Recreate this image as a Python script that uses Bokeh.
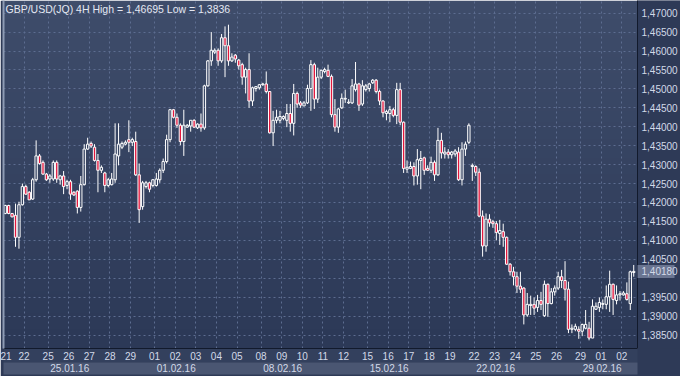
import numpy as np
from bokeh.plotting import figure
from bokeh.models import (Range1d, FixedTicker, CustomJSTickFormatter, Label,
                          LinearAxis, ColumnDataSource)
from bokeh.embed import file_html
from bokeh.resources import INLINE

# ---------------- data (4H bars, GBP/USD) ----------------
bar_open = [1.4171,1.4192,1.4171,1.4166,1.4108,1.4194,1.4242,1.4227,1.4209,1.4260,
1.4323,1.4306,1.4275,1.4262,1.4262,1.4306,1.4260,1.4270,1.4245,1.4255,
1.4227,1.4230,1.4187,1.4247,1.4341,1.4356,1.4346,1.4311,1.4285,1.4278,
1.4245,1.4247,1.4260,1.4323,1.4346,1.4354,1.4366,1.4359,1.4361,1.4273,
1.4189,1.4242,1.4252,1.4245,1.4245,1.4260,1.4285,1.4308,1.4366,1.4445,
1.4425,1.4404,1.4361,1.4399,1.4402,1.4417,1.4397,1.4407,1.4397,1.4508,
1.4574,1.4597,1.4602,1.4574,1.4635,1.4614,1.4574,1.4589,1.4576,1.4564,
1.4531,1.4551,1.4468,1.4501,1.4503,1.4511,1.4513,1.4493,1.4384,1.4417,
1.4417,1.4422,1.4417,1.4435,1.4409,1.4488,1.4463,1.4455,1.4463,1.4501,
1.4564,1.4473,1.4531,1.4546,1.4549,1.4533,1.4432,1.4399,1.4450,1.4473,
1.4463,1.4463,1.4498,1.4513,1.4460,1.4498,1.4501,1.4516,1.4523,1.4493,
1.4468,1.4435,1.4435,1.4445,1.4430,1.4498,1.4412,1.4288,1.4290,1.4295,
1.4270,1.4311,1.4318,1.4290,1.4285,1.4306,1.4273,1.4364,1.4328,1.4333,
1.4326,1.4328,1.4333,1.4260,1.4341,1.4359,1.4295,1.4295,1.4280,1.4164,
1.4085,1.4156,1.4149,1.4144,1.4118,1.4123,1.4108,1.4037,1.4017,1.4004,
1.3979,1.3974,1.3903,1.3928,1.3931,1.3923,1.3941,1.3901,1.3984,1.3933,
1.3964,1.3974,1.4004,1.3994,1.3971,1.3865,1.3865,1.3865,1.3860,1.3868,
1.3868,1.3842,1.3918,1.3923,1.3931,1.3931,1.3951,1.3984,1.3941,1.3956,
1.3956,1.3959,1.3933,1.4015]

bar_high = [1.4194,1.4194,1.4172,1.4197,1.4202,1.4250,1.4247,1.4230,1.4265,1.4364,
1.4328,1.4311,1.4278,1.4275,1.4311,1.4311,1.4273,1.4283,1.4260,1.4260,
1.4230,1.4232,1.4270,1.4354,1.4371,1.4361,1.4354,1.4328,1.4298,1.4281,
1.4265,1.4278,1.4409,1.4409,1.4361,1.4364,1.4417,1.4371,1.4387,1.4303,
1.4257,1.4257,1.4255,1.4262,1.4278,1.4290,1.4316,1.4379,1.4447,1.4447,
1.4435,1.4409,1.4445,1.4407,1.4417,1.4420,1.4409,1.4435,1.4511,1.4576,
1.4650,1.4607,1.4607,1.4645,1.4665,1.46695,1.4594,1.4592,1.4579,1.4569,
1.4556,1.4594,1.4506,1.4506,1.4513,1.4516,1.4546,1.4493,1.4442,1.4445,
1.4442,1.4430,1.4460,1.4460,1.4513,1.4493,1.4468,1.4468,1.4511,1.4576,
1.4569,1.4556,1.4551,1.4556,1.4564,1.4538,1.4473,1.4450,1.4488,1.4498,
1.4473,1.4526,1.4571,1.4516,1.4523,1.4513,1.4516,1.4526,1.4526,1.4498,
1.4470,1.4445,1.4455,1.4450,1.4516,1.4516,1.4414,1.4311,1.4308,1.4306,
1.4341,1.4336,1.4321,1.4298,1.4321,1.4311,1.4397,1.4384,1.4346,1.4341,
1.4336,1.4341,1.4346,1.4359,1.4361,1.4409,1.4303,1.4298,1.4290,1.4179,
1.4171,1.4169,1.4154,1.4151,1.4154,1.4144,1.4110,1.4040,1.4030,1.4017,
1.4017,1.3976,1.3961,1.3954,1.3949,1.3956,1.3964,1.3994,1.3986,1.3974,
1.3981,1.4017,1.4022,1.4045,1.3991,1.3878,1.3880,1.3873,1.3880,1.3916,
1.3885,1.3944,1.3936,1.3949,1.3944,1.3981,1.4020,1.3986,1.3981,1.3966,
1.3966,1.3989,1.4020,1.4035]

bar_low = [1.4169,1.4169,1.4161,1.4083,1.4078,1.4192,1.4220,1.4207,1.4207,1.4255,
1.4300,1.4273,1.4257,1.4252,1.4257,1.4252,1.4247,1.4222,1.4235,1.4207,
1.4217,1.4171,1.4176,1.4245,1.4339,1.4344,1.4308,1.4227,1.4278,1.4227,
1.4240,1.4245,1.4252,1.4298,1.4341,1.4351,1.4333,1.4349,1.4270,1.4146,
1.4181,1.4237,1.4227,1.4240,1.4242,1.4252,1.4278,1.4303,1.4359,1.4422,
1.4397,1.4351,1.4323,1.4397,1.4387,1.4397,1.4394,1.4387,1.4392,1.4506,
1.4561,1.4592,1.4561,1.4569,1.4531,1.4561,1.4571,1.4569,1.4551,1.4511,
1.4488,1.4450,1.4455,1.4493,1.4498,1.4508,1.4488,1.4382,1.4349,1.4409,
1.4409,1.4417,1.4399,1.4387,1.4377,1.4450,1.4450,1.4455,1.4460,1.4442,
1.4447,1.4463,1.4526,1.4541,1.4531,1.4425,1.4387,1.4384,1.4447,1.4463,
1.4460,1.4460,1.4493,1.4442,1.4455,1.4493,1.4493,1.4513,1.4488,1.4457,
1.4425,1.4417,1.4412,1.4425,1.4407,1.4404,1.4278,1.4278,1.4288,1.4245,
1.4247,1.4235,1.4273,1.4283,1.4278,1.4257,1.4270,1.4316,1.4316,1.4316,
1.4316,1.4321,1.4257,1.4245,1.4323,1.4354,1.4257,1.4270,1.4161,1.4057,
1.4070,1.4136,1.4133,1.4100,1.4088,1.4083,1.4035,1.4007,1.3981,1.3961,
1.3961,1.3878,1.3898,1.3903,1.3903,1.3911,1.3916,1.3898,1.3898,1.3931,
1.3954,1.3969,1.3974,1.3941,1.3855,1.3855,1.3860,1.3840,1.3847,1.3865,
1.3836,1.3842,1.3916,1.3911,1.3918,1.3918,1.3911,1.3903,1.3931,1.3941,
1.3954,1.3941,1.3916,1.4004]

bar_close = [1.4192,1.4171,1.4162,1.4108,1.4194,1.4242,1.4222,1.4207,1.4260,1.4323,
1.4303,1.4275,1.4260,1.4270,1.4306,1.4262,1.4270,1.4242,1.4255,1.4222,
1.4220,1.4187,1.4247,1.4341,1.4354,1.4349,1.4311,1.4285,1.4293,1.4245,
1.4260,1.4262,1.4328,1.4354,1.4356,1.4359,1.4359,1.4366,1.4273,1.4181,
1.4252,1.4252,1.4235,1.4260,1.4262,1.4285,1.4308,1.4366,1.4445,1.4425,
1.4404,1.4361,1.4404,1.4404,1.4417,1.4399,1.4407,1.4397,1.4508,1.4574,
1.4602,1.4602,1.4574,1.4635,1.4614,1.4574,1.4584,1.4579,1.4561,1.4531,
1.4551,1.4468,1.4503,1.4506,1.4511,1.4513,1.4493,1.4384,1.4417,1.4425,
1.4427,1.4427,1.4435,1.4409,1.4488,1.4460,1.4457,1.4463,1.4501,1.4564,
1.4473,1.4531,1.4549,1.4551,1.4533,1.4432,1.4399,1.4447,1.4475,1.4475,
1.4465,1.4508,1.4513,1.4457,1.4508,1.4508,1.4513,1.4523,1.4493,1.4468,
1.4437,1.4440,1.4445,1.4430,1.4498,1.4412,1.4290,1.4293,1.4295,1.4270,
1.4313,1.4316,1.4285,1.4285,1.4306,1.4273,1.4364,1.4331,1.4333,1.4326,
1.4333,1.4336,1.4260,1.4341,1.4354,1.4404,1.4298,1.4280,1.4164,1.4085,
1.4156,1.4146,1.4144,1.4121,1.4126,1.4108,1.4037,1.4017,1.4004,1.3979,
1.3971,1.3903,1.3931,1.3931,1.3921,1.3941,1.3931,1.3984,1.3933,1.3964,
1.3974,1.4004,1.3994,1.3971,1.3865,1.3868,1.3873,1.3860,1.3878,1.3878,
1.3842,1.3926,1.3926,1.3936,1.3933,1.3951,1.3984,1.3944,1.3956,1.3959,
1.3961,1.3944,1.4017,1.4018]

day_labels = ["21","22","25","26","27","28","29","01","02","03","04","05",
              "08","09","10","11","12","15","16","17","18","19",
              "22","23","24","25","26","29","01","02"]
day_first_bar = [0,6,13,19,25,31,37,44,50,56,62,68,75,81,87,93,99,
                 106,112,118,124,130,137,143,149,155,161,168,174,180]
week_labels = ["25.01.16","01.02.16","08.02.16","15.02.16","22.02.16","29.02.16"]
week_first_bar = [13,44,75,106,137,168]
price_ticks = [1.385,1.390,1.395,1.400,1.405,1.410,1.415,1.420,1.425,
               1.430,1.435,1.440,1.445,1.450,1.455,1.460,1.465,1.470]
last_price = 1.4018
title_text = "GBP/USD(JQ) 4H High = 1,46695 Low = 1,3836"

# ---------------- styling ----------------
W, H = 680, 376
LEFT, RIGHT, BOTTOM = 3, 42, 28
FW, FH = W - LEFT - RIGHT, H - BOTTOM
FONT = "Liberation Sans"
TXT = "#d2d9e8"
RED = "#e3173d"
PANEL = "#2e3a57"
WEEK_SHIFT = 6.3   # centre of a left-aligned week caption, in bars
TAG_LEN = 37       # length of the last-price tag behind its label

o = np.array(bar_open); h = np.array(bar_high)
l = np.array(bar_low); c = np.array(bar_close)
idx = np.arange(len(o))
body_top = np.maximum(o, c); body_bot = np.minimum(o, c)
up = c >= o

xr = Range1d(-0.5, 184.1)
yr = Range1d(1.38144, 1.47334)

p = figure(width=W, height=H, output_backend="svg", toolbar_location=None,
           x_range=xr, y_range=yr, y_axis_location="right",
           min_border_left=LEFT, min_border_right=RIGHT,
           min_border_top=0, min_border_bottom=BOTTOM)
p.border_fill_color = PANEL
p.outline_line_color = None

# gradient background
n = 128
t = np.linspace(0, 1, n)[:, None]
top_c = np.array([63, 77, 107]); bot_c = np.array([44, 57, 87])
rgb = (bot_c * (1 - t) + top_c * t).astype(np.uint32)  # row 0 = bottom
img = (255 << 24) | (rgb[:, 2] << 16) | (rgb[:, 1] << 8) | rgb[:, 0]
img = np.repeat(img[:, None], 2, axis=1).astype(np.uint32)
p.image_rgba(image=[img], x=xr.start, y=yr.start, dw=xr.end - xr.start,
             dh=yr.end - yr.start, level="image")

# grids
day_ticks = [b - 0.5 for b in day_first_bar]
p.xgrid.ticker = FixedTicker(ticks=day_ticks)
p.ygrid.ticker = FixedTicker(ticks=price_ticks)
for g in (p.xgrid, p.ygrid):
    g.grid_line_color = "#5d6d90"
    g.grid_line_dash = "2 3"
    g.grid_line_width = 1

# candles
src_all = ColumnDataSource(dict(x=idx, h=h, l=l, bt=body_top, bb=body_bot))
p.segment(x0="x", y0="h", x1="x", y1="bt", source=src_all, line_color="white", line_width=1)
p.segment(x0="x", y0="bb", x1="x", y1="l", source=src_all, line_color="white", line_width=1)
src_up = ColumnDataSource(dict(x=idx[up], t=body_top[up], b=body_bot[up]))
src_dn = ColumnDataSource(dict(x=idx[~up], t=body_top[~up], b=body_bot[~up]))
p.vbar(x="x", top="t", bottom="b", width=0.68, source=src_up,
       fill_color=None, line_color="white", line_width=1)
p.vbar(x="x", top="t", bottom="b", width=0.68, source=src_dn,
       fill_color=RED, line_color="white", line_width=1)

# right price axis (with last-price tag drawn as a thick minor tick)
ya = p.yaxis[0]
ya.ticker = FixedTicker(ticks=price_ticks + [last_price], minor_ticks=[last_price])
ya.formatter = CustomJSTickFormatter(
    args=dict(last=last_price),
    code="""
    if (tick != last && Math.abs(tick - last) < 0.003) { return ''; }
    return tick.toFixed(5).replace('.', ',');
    """)
ya.major_tick_line_color = None
ya.major_tick_out = 0
ya.major_tick_in = 0
ya.minor_tick_in = 0
ya.minor_tick_out = TAG_LEN
ya.minor_tick_line_width = 13
ya.minor_tick_line_color = "#6a7591"
ya.major_label_standoff = 4 - TAG_LEN
ya.axis_line_color = "#121a2c"
ya.major_label_text_color = TXT
ya.major_label_text_font = FONT
ya.major_label_text_font_size = "10px"

# bottom day axis
xa = p.xaxis[0]
xa.ticker = FixedTicker(ticks=day_ticks)
xa.major_label_overrides = {t_: lab for t_, lab in zip(day_ticks, day_labels)}
xa.major_tick_line_color = None
xa.minor_tick_line_color = None
xa.major_tick_out = 0
xa.major_tick_in = 0
xa.major_label_standoff = 3
xa.axis_line_color = "#121a2c"
xa.major_label_text_color = TXT
xa.major_label_text_font = FONT
xa.major_label_text_font_size = "10px"

# second row: week captions
wk_ticks = [b - 0.5 + WEEK_SHIFT for b in week_first_bar]
wa = LinearAxis(ticker=FixedTicker(ticks=wk_ticks),
                major_label_overrides={t_: lab for t_, lab in zip(wk_ticks, week_labels)})
wa.major_tick_line_color = None
wa.minor_tick_line_color = None
wa.major_tick_out = 0
wa.major_tick_in = 0
wa.major_label_standoff = 1
wa.axis_line_color = None
wa.major_label_text_color = TXT
wa.major_label_text_font = FONT
wa.major_label_text_font_size = "10px"
p.add_layout(wa, "below")

# thin light frame strip on the left
la = LinearAxis(ticker=FixedTicker(ticks=[]))
la.major_tick_line_color = None
la.minor_tick_line_color = None
la.major_tick_out = 0
la.major_tick_in = 0
la.major_label_standoff = 0
la.axis_line_color = "#8e9bb4"
la.axis_line_width = 2
p.add_layout(la, "left")

for ax, col in ((xa, "#33405d"), (wa, "#4a5672"), (ya, "#2e3a57"), (la, "#8e9bb4")):
    if hasattr(ax, "background_fill_color"):
        ax.background_fill_color = col

# title
p.add_layout(Label(x=2, y=FH - 8, x_units="screen", y_units="screen",
                   text=title_text, text_align="left", text_baseline="middle",
                   text_color="#e4e8f2", text_font=FONT,
                   text_font_size="10.5px"))

open("out.html", "w").write(file_html(p, INLINE))
